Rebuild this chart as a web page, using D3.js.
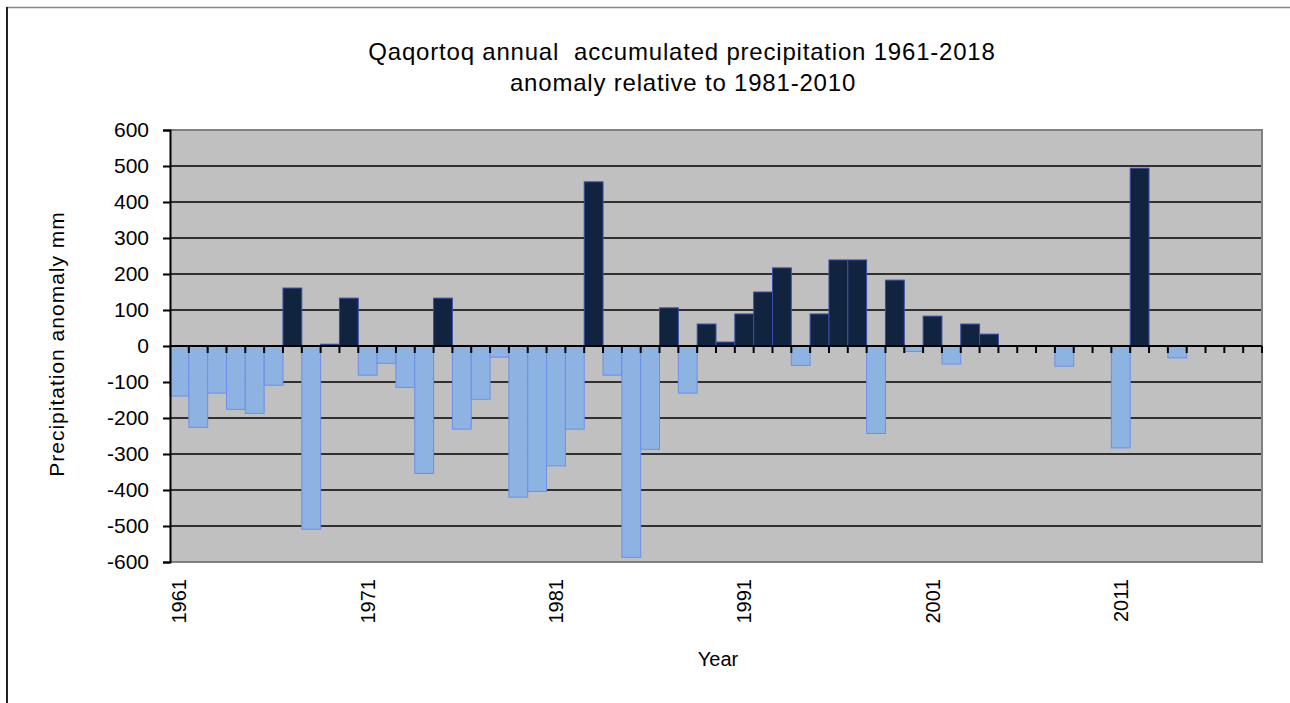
<!DOCTYPE html>
<html>
<head>
<meta charset="utf-8">
<script src="https://cdn.jsdelivr.net/npm/d3@7"></script>
<style>
  body { margin: 0; background: #fff; }
  text { font-family: "Liberation Sans", Arial, sans-serif; fill: #000; }
</style>
</head>
<body>
<svg id="main" width="1290" height="703"></svg>
<script>
"use strict";

//data
const years = d3.range(1961, 2019);
const anomaly = [
  -139, -226, -131, -176, -187, -109, 161, -509, 5, 133,
  -81, -48, -115, -354, 133, -231, -148, -31, -420, -404,
  -333, -231, 456, -81, -587, -287, 106, -131, 61, 11,
  89, 150, 217, -54, 89, 239, 239, -243, 183, -15,
  83, -50, 61, 33, 0, 0, 0, -56, 0, 0,
  -283, 494, 0, -33, 0, 0, 0, 0
];
const yTicks = [-600, -500, -400, -300, -200, -100, 0, 100, 200, 300, 400, 500, 600];
const xLabels = [1961, 1971, 1981, 1991, 2001, 2011];

//configurations
const plot = { left: 170, right: 1262, top: 130, bottom: 562 };
const colors = {
  pos: "#10243f",
  posStroke: "#3c4ea8",
  neg: "#8db3e3",
  negStroke: "#6e8eea",
  bg: "#c0c0c0",
  frame: "#808080"
};

const mySvg = d3.select("#main");
const data = years.map((y, i) => ({ year: y, value: anomaly[i] }));

const x = d3.scaleBand()
  .domain(years)
  .range([plot.left, plot.right])
  .padding(0);
const y = d3.scaleLinear()
  .domain([-600, 600])
  .range([plot.bottom, plot.top]);

//outer chart frame (only top and left show)
mySvg.append("line")
  .attr("x1", 6).attr("x2", 1290).attr("y1", 7.5).attr("y2", 7.5)
  .attr("stroke", "#888").attr("stroke-width", 1.5);
mySvg.append("line")
  .attr("x1", 7).attr("x2", 7).attr("y1", 7).attr("y2", 703)
  .attr("stroke", "#222").attr("stroke-width", 2);

//plot background
mySvg.append("rect")
  .attr("x", plot.left).attr("y", plot.top)
  .attr("width", plot.right - plot.left)
  .attr("height", plot.bottom - plot.top)
  .attr("fill", colors.bg);

//gridlines
mySvg.append("g")
  .selectAll("line")
  .data(yTicks.filter(d => d != -600 && d != 600 && d != 0))
  .enter().append("line")
  .attr("x1", plot.left).attr("x2", plot.right)
  .attr("y1", d => y(d)).attr("y2", d => y(d))
  .attr("stroke", "#000").attr("stroke-width", 1.5);

//bars
mySvg.append("g")
  .selectAll("rect")
  .data(data.filter(d => d.value != 0))
  .enter().append("rect")
  .attr("x", d => x(d.year))
  .attr("width", x.bandwidth())
  .attr("y", d => y(Math.max(0, d.value)))
  .attr("height", d => Math.abs(y(d.value) - y(0)))
  .attr("fill", d => d.value > 0 ? colors.pos : colors.neg)
  .attr("stroke", d => d.value > 0 ? colors.posStroke : colors.negStroke)
  .attr("stroke-width", 1);

//plot frame top, right, bottom
mySvg.append("path")
  .attr("d", `M${plot.left},${plot.top}H${plot.right}V${plot.bottom}H${plot.left}`)
  .attr("fill", "none")
  .attr("stroke", colors.frame)
  .attr("stroke-width", 2);

//y axis
const yAxis = d3.axisLeft(y)
  .tickValues(yTicks)
  .tickSize(7)
  .tickPadding(14)
  .tickFormat(d => String(d));
const yG = mySvg.append("g")
  .attr("transform", `translate(${plot.left},0)`)
  .call(yAxis);
yG.select(".domain").attr("stroke", "#000").attr("stroke-width", 2);
yG.selectAll(".tick line").attr("stroke", "#000").attr("stroke-width", 2);
yG.selectAll(".tick text")
  .style("font-family", "Liberation Sans, Arial, sans-serif")
  .style("font-size", "21px")
  .attr("fill", "#000");

//zero line with ticks at category boundaries
mySvg.append("line")
  .attr("x1", plot.left).attr("x2", plot.right)
  .attr("y1", y(0)).attr("y2", y(0))
  .attr("stroke", "#000").attr("stroke-width", 2);
mySvg.append("g")
  .selectAll("line")
  .data(years.slice(1).concat([null]))
  .enter().append("line")
  .attr("x1", d => d == null ? plot.right : x(d))
  .attr("x2", d => d == null ? plot.right : x(d))
  .attr("y1", y(0)).attr("y2", y(0) + 7)
  .attr("stroke", "#000").attr("stroke-width", 2);

//x labels, rotated
mySvg.append("g")
  .selectAll("text")
  .data(xLabels)
  .enter().append("text")
  .attr("transform", d => `translate(${x(d) + x.bandwidth() / 2 + 7},579) rotate(-90)`)
  .attr("text-anchor", "end")
  .style("font-size", "20px")
  .text(d => d);

//titles
mySvg.append("text")
  .attr("x", 682).attr("y", 60)
  .attr("text-anchor", "middle")
  .style("font-size", "24px")
  .style("letter-spacing", "0.8px")
  .style("white-space", "pre")
  .text("Qaqortoq annual  accumulated precipitation 1961-2018");
mySvg.append("text")
  .attr("x", 683).attr("y", 91)
  .attr("text-anchor", "middle")
  .style("font-size", "24px")
  .style("letter-spacing", "0.8px")
  .text("anomaly relative to 1981-2010");

mySvg.append("text")
  .attr("x", 718).attr("y", 666)
  .attr("text-anchor", "middle")
  .style("font-size", "20px")
  .text("Year");

mySvg.append("text")
  .attr("transform", `translate(64,${y(0) - 2}) rotate(-90)`)
  .attr("text-anchor", "middle")
  .style("font-size", "21px")
  .style("letter-spacing", "1px")
  .text("Precipitation anomaly mm");
</script>
</body>
</html>
